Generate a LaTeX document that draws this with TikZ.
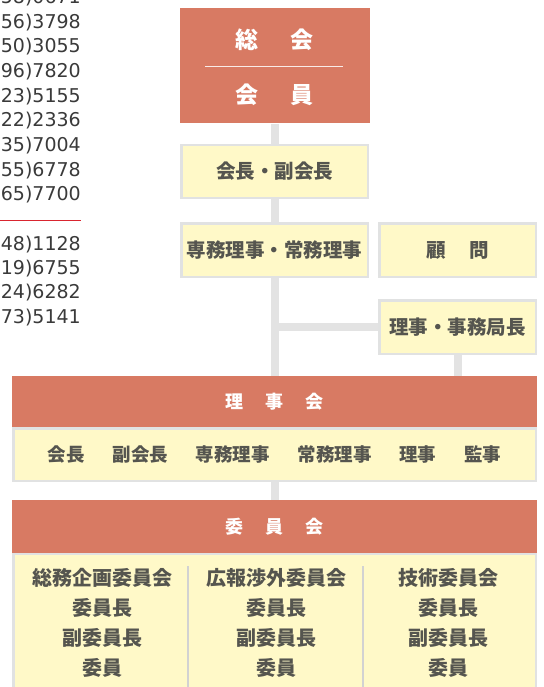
\documentclass[tikz,border=0pt]{standalone}
\usepackage{fontspec}
\newfontfamily\jpfont{Noto Sans CJK JP}
\newfontfamily\telfont{DejaVu Sans}
\usetikzlibrary{backgrounds}
\definecolor{headred}{HTML}{D87A63}
\definecolor{postyellow}{HTML}{FFF9C8}
\definecolor{postgray}{HTML}{E1E2E2}
\definecolor{linkgray}{HTML}{E3E3E3}
\definecolor{textgray}{HTML}{55554F}
\definecolor{telgray}{HTML}{3A3A3A}
\definecolor{rulered}{HTML}{D9252F}
\tikzset{
  head/.style={fill=headred, text=white, inner sep=0pt,
    font=\jpfont\bfseries\fontsize{18}{20}\selectfont},
  post/.style={draw=postgray, line width=2.5pt, fill=postyellow, text=textgray,
    inner sep=0pt, font=\jpfont\bfseries\fontsize{19.5}{22}\selectfont},
  link/.style={draw=linkgray, line width=8pt},
  tel/.style={anchor=east, inner sep=0pt, text=telgray,
    font=\telfont\fontsize{19}{21}\selectfont},
}
\begin{document}
\begin{tikzpicture}[x=1pt, y=-1pt]
  \useasboundingbox (0,0) rectangle (543,687);

  % phone numbers cut off on the left
  \foreach \y/\num [count=\i] in {-2/{58)0671}, 23/{56)3798}, 47/{50)3055},
      72/{96)7820}, 97/{23)5155}, 121/{22)2336}, 146/{35)7004},
      171/{55)6778}, 195/{65)7700}, 245/{48)1128}, 269/{19)6755},
      293/{24)6282}, 318/{73)5141}}
    \node [tel] (tel\i) at (81,\y) {\num};
  \draw [rulered, line width=1pt] (0,220) -- (81,220);

  \draw (274.5, 66) node [head, minimum width=190pt, minimum height=115pt] (GM) {}
        (274.5, 40) node [head, fill=none, font=\jpfont\bfseries\fontsize{23}{25}\selectfont] (GMtop) {総\hspace{1.4em}会}
        (274.5, 95) node [head, fill=none, font=\jpfont\bfseries\fontsize{23}{25}\selectfont] (GMbot) {会\hspace{1.4em}員}
        (274.5, 171.5) node [post, minimum width=186.5pt, minimum height=52.5pt] (chair) {会長・副会長}
        (274.5, 250) node [post, minimum width=186.5pt, minimum height=53.5pt] (exec) {専務理事・常務理事}
        (457.5, 250) node [post, minimum width=156.5pt, minimum height=53.5pt] (advisor) {顧\hspace{1.2em}問}
        (457.5, 327) node [post, minimum width=156.5pt, minimum height=53.5pt] (secgen) {理事・事務局長}
        (274.5, 401.5) node [head, minimum width=525pt, minimum height=51pt] (board) {理\hspace{1.2em}事\hspace{1.2em}会}
        (274.5, 454.5) node [post, minimum width=522.5pt, minimum height=52.5pt,
                             font=\jpfont\bfseries\fontsize{18.5}{20}\selectfont] (members)
          {会長\hspace{1.5em}副会長\hspace{1.5em}専務理事\hspace{1.5em}常務理事\hspace{1.5em}理事\hspace{1.5em}監事}
        (274.5, 637) node [post, minimum width=522.5pt, minimum height=166pt] (committees) {}
        (274.5, 526.5) node [head, minimum width=525pt, minimum height=53pt] (comhead) {委\hspace{1.2em}員\hspace{1.2em}会};
  \draw [white!85!headred, line width=1pt] (205,67) -- (343,67);

  % three committees
  \draw [postgray!80!black!60, line width=1.2pt] (188,566) -- (188,700)
                                                 (363,566) -- (363,700);
  \foreach \x/\com [count=\i] in {102/総務企画委員会, 276/広報渉外委員会, 448/技術委員会}
    \node [post, draw=none, fill=none, align=center,
           font=\jpfont\bfseries\fontsize{20}{30}\selectfont] (com\i) at (\x,623)
      {\com\\委員長\\副委員長\\委員};

  \begin{scope}[on background layer]
    \draw [link] (GM) -- (chair) -- (exec) -- (exec |- board.north);
    \draw [link] (exec.south |- secgen) -- (secgen);
    \draw [link] (secgen) -- (secgen |- board.north);
    \draw [link] (members) -- (comhead);
  \end{scope}
\end{tikzpicture}
\end{document}
